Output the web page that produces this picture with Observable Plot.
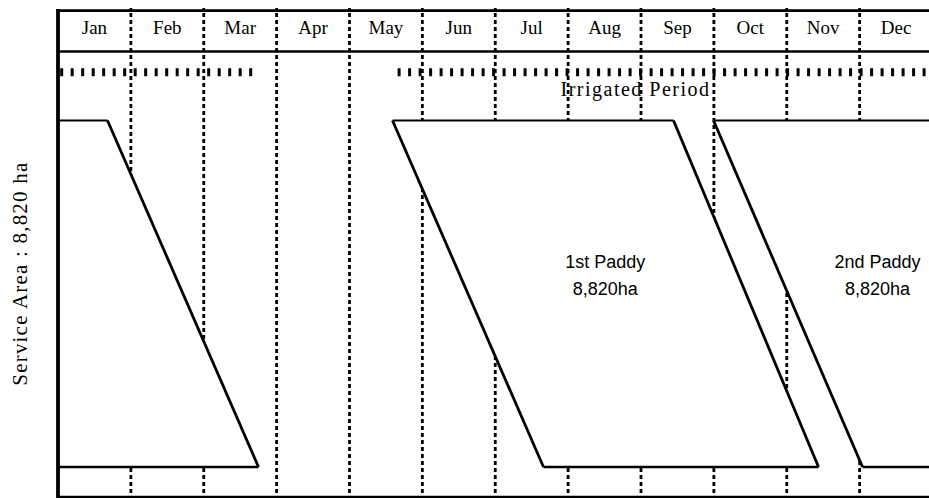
<!DOCTYPE html>
<html>
<head>
<meta charset="utf-8">
<script src="https://cdn.jsdelivr.net/npm/d3@7"></script>
<script src="https://cdn.jsdelivr.net/npm/@observablehq/plot@0.6"></script>
<style>
  html, body { margin: 0; padding: 0; background: #fff; overflow: hidden; }
  #chart svg { overflow: hidden; display: block; }
</style>
</head>
<body>
<div id="chart"></div>
<script>
// ---- Data (x in months from 1 Jan, y as share of service area) ----
const months = ["Jan","Feb","Mar","Apr","May","Jun","Jul","Aug","Sep","Oct","Nov","Dec"];
const dividerMonths = [1,2,3,4,5,6,7,8,9,10,11];

const cropNames   = ["Carry-over paddy", "1st Paddy", "2nd Paddy"];
const topStart    = [0,     4.59,  8.995];   // planting starts (full area)
const topEnd      = [0.679, 8.446, 12.4];    // harvest starts
const bottomStart = [0,     6.662, 11.04];   // planting finished
const bottomEnd   = [2.751, 10.436, 12.4];   // harvest finished
const cropLabels  = ["", "1st Paddy\n8,820ha", "2nd Paddy\n8,820ha"];
const labelX      = [0, 7.51, 11.245];
const labelY      = [0, 0.56, 0.56];

const irrigStart = [0.03, 4.66];
const irrigEnd   = [2.71, 12.4];

const serviceLabel = "Service Area : 8,820 ha";
const irrigLabel = "Irrigated Period";

// row levels of the calendar header (in y units)
const HEADER_TOP = 1.317, HEADER_BOTTOM = 1.199, MONTH_ROW = 1.268,
      IRRIG_ROW = 1.139, IRRIG_TEXT = 1.088, FRAME_BOTTOM = -0.087, DIV_TOP = 1.323;
const X_END = 12.4;

// ---- derived tables ----
const areaRows = cropNames.flatMap((c, i) => [
  {crop: c, y: 1, x1: topStart[i], x2: topEnd[i]},
  {crop: c, y: 0, x1: bottomStart[i], x2: bottomEnd[i]}
]);
const slants = [];
cropNames.forEach((c, i) => {
  if (topStart[i] > 0) slants.push({x1: topStart[i], x2: bottomStart[i]});
  if (topEnd[i] < 12) slants.push({x1: topEnd[i], x2: bottomEnd[i]});
});
const tops = cropNames.map((c, i) => ({x1: topStart[i], x2: topEnd[i]}));
const bottoms = cropNames.map((c, i) => ({x1: bottomStart[i], x2: bottomEnd[i]}));
const irrig = irrigStart.map((s, i) => ({x1: s, x2: irrigEnd[i]}));
const labels = cropLabels.map((t, i) => ({t, x: labelX[i], y: labelY[i]})).filter(d => d.t);

const chart = Plot.plot({
  width: 929,
  height: 498,
  margin: 0,
  x: {domain: [0, 12], range: [57.5, 932], axis: null},
  y: {domain: [0, 1], range: [466.5, 120], axis: null},
  style: {background: "#fff"},
  marks: [
    // month dividers
    Plot.ruleX(dividerMonths, {x: d => d, y1: FRAME_BOTTOM - 0.01, y2: DIV_TOP, stroke: "#000", strokeWidth: 2.8, strokeDasharray: "4,3"}),
    // crop areas hide dividers
    Plot.areaX(areaRows, {y: "y", x1: "x1", x2: "x2", z: "crop", fill: "#fff", curve: "linear"}),
    // slanted planting / harvesting lines
    Plot.link(slants, {x1: "x1", x2: "x2", y1: 1, y2: 0, stroke: "#000", strokeWidth: 2.8}),
    Plot.link(tops, {x1: "x1", x2: "x2", y1: 1, y2: 1, stroke: "#000", strokeWidth: 1.8}),
    Plot.link(bottoms, {x1: "x1", x2: "x2", y1: 0, y2: 0, stroke: "#000", strokeWidth: 2.4}),
    // frame & header
    Plot.ruleX([0], {x: d => d, y1: FRAME_BOTTOM - 0.01, y2: HEADER_TOP + 0.003, stroke: "#000", strokeWidth: 3.8}),
    Plot.ruleY([HEADER_TOP, HEADER_BOTTOM], {y: d => d, x1: 0, x2: X_END, stroke: "#000", strokeWidth: 2.6}),
    Plot.ruleY([FRAME_BOTTOM], {y: d => d, x1: 0, x2: X_END, stroke: "#000", strokeWidth: 2.6}),
    // irrigated period
    Plot.link(irrig, {x1: "x1", x2: "x2", y1: IRRIG_ROW, y2: IRRIG_ROW, stroke: "#000", strokeWidth: 8, strokeDasharray: "3,7.5"}),
    Plot.text([irrigLabel], {x: 7.925, y: IRRIG_TEXT, text: d => d, fontFamily: "Liberation Serif", fontSize: 20, fill: "#000"}),
    // month labels
    Plot.text(months, {x: (d, i) => i + 0.5, y: MONTH_ROW, text: d => d, fontFamily: "Liberation Serif", fontSize: 19, fill: "#000"}),
    // crop labels
    Plot.text(labels, {x: "x", y: "y", text: "t", fontFamily: "Liberation Sans", fontSize: 18, lineHeight: 1.5, fill: "#000"}),
    // y label
    Plot.text([serviceLabel], {x: -0.515, y: 0.558, text: d => d, rotate: -90, fontFamily: "Liberation Serif", fontSize: 21, fill: "#000"})
  ]
});
document.getElementById("chart").append(chart);
// wider letter spacing to match the scanned lettering
d3.select(chart).selectAll("text")
  .filter(function () { return this.textContent === irrigLabel; })
  .attr("letter-spacing", 1.5);
d3.select(chart).selectAll("text")
  .filter(function () { return this.textContent === serviceLabel; })
  .attr("letter-spacing", 1.2);
</script>
</body>
</html>
